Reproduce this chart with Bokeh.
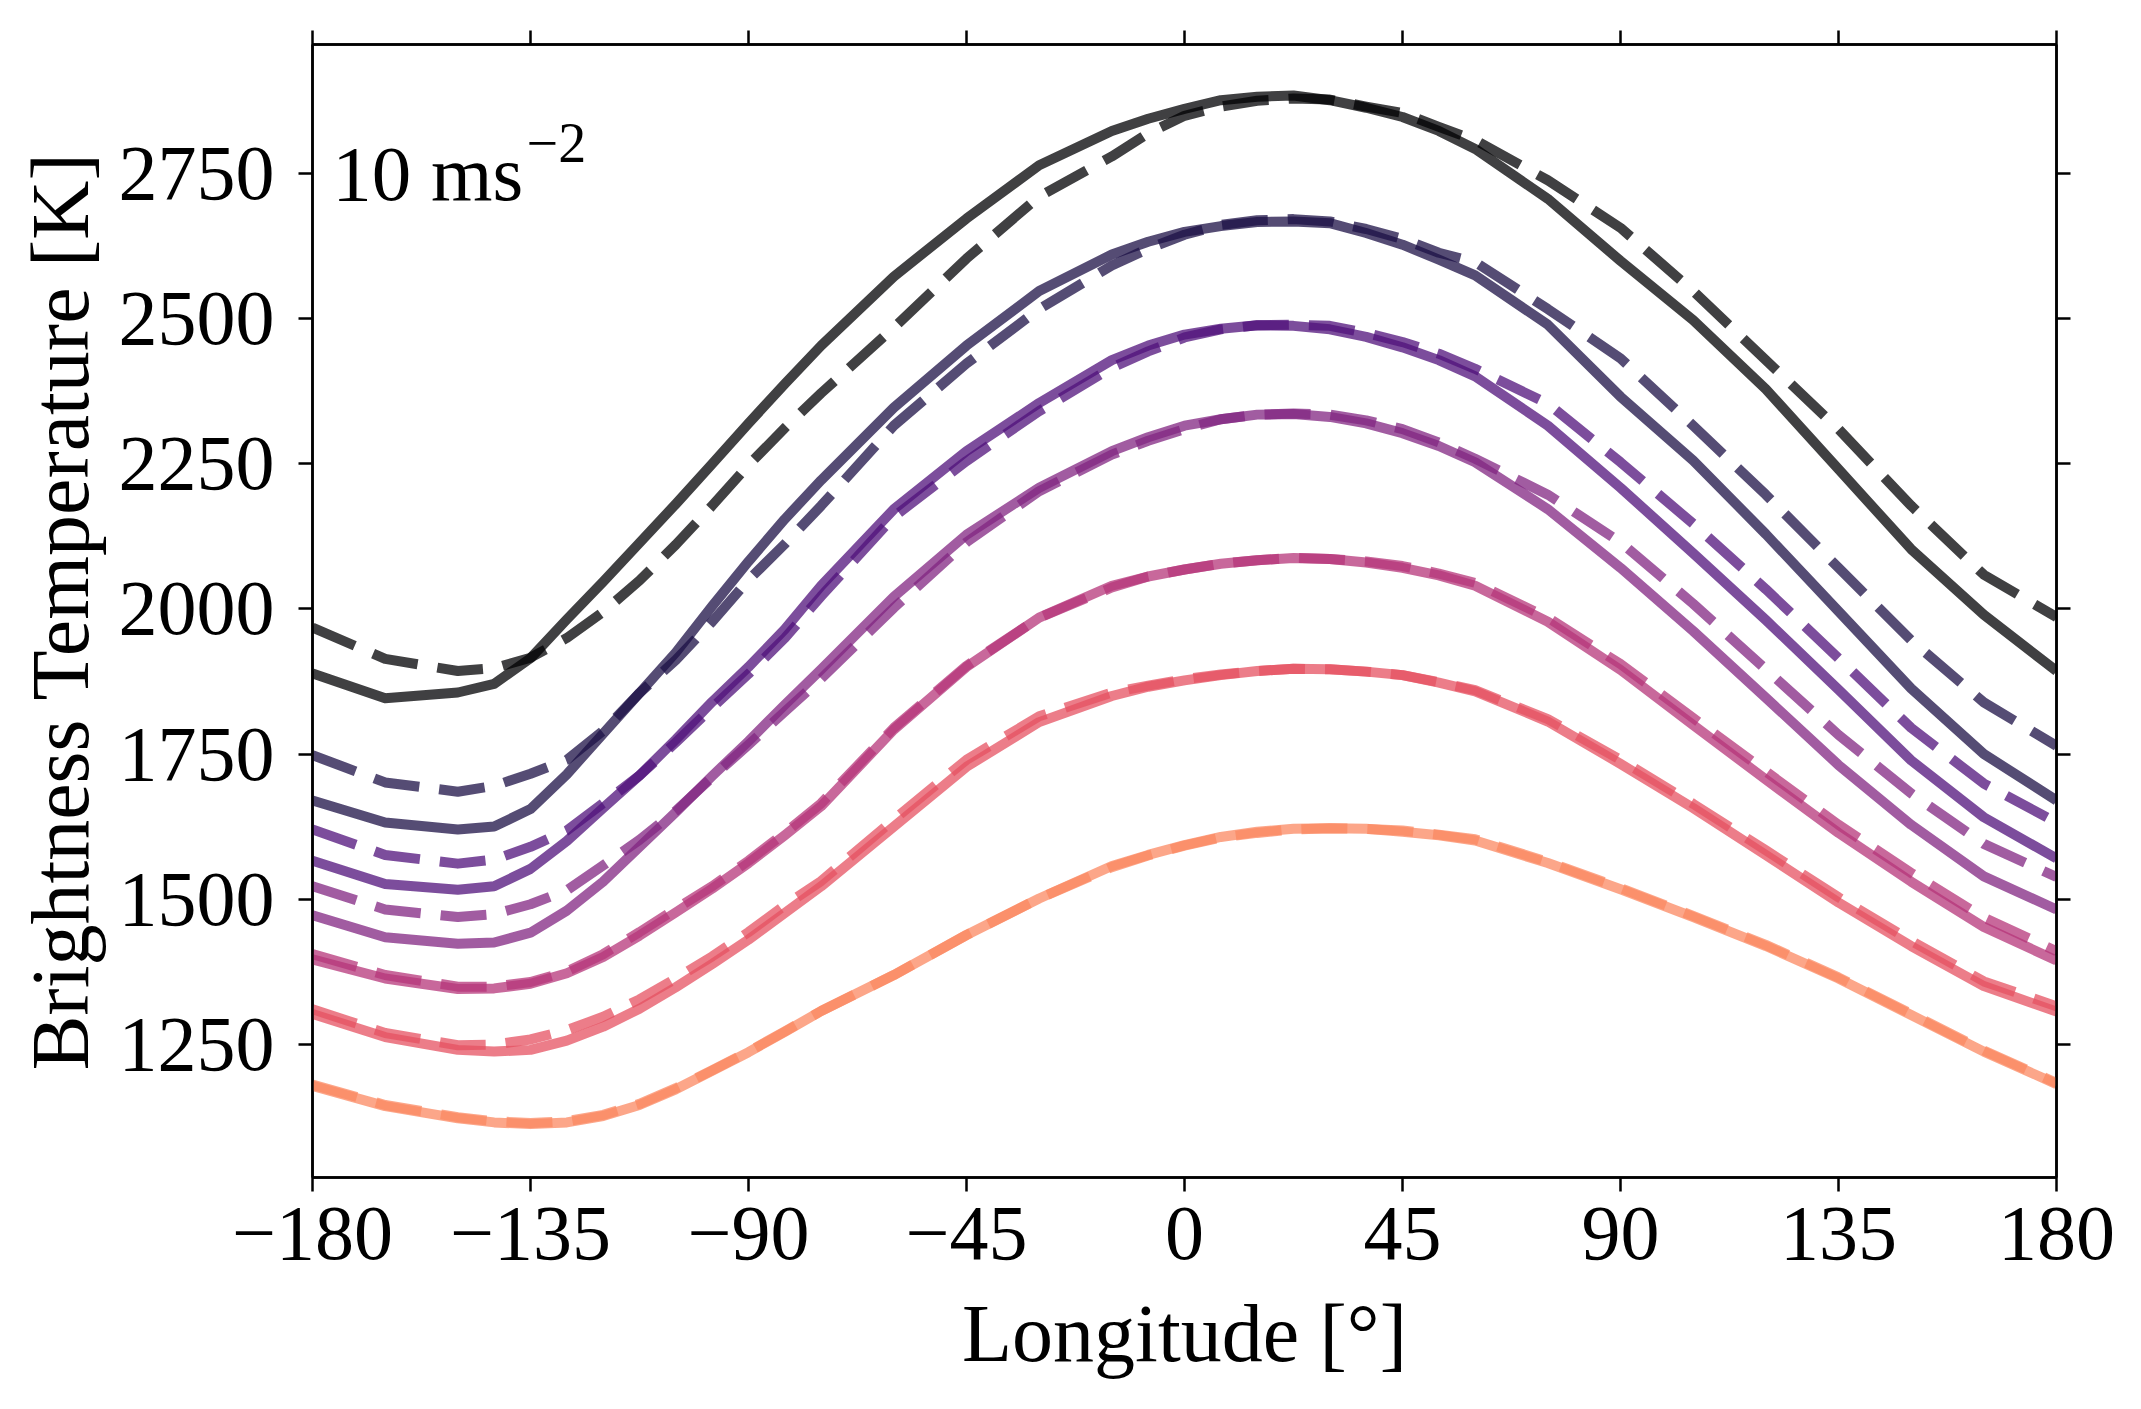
from bokeh.plotting import figure
from bokeh.models import FixedTicker, LinearAxis, Range1d, Label
from bokeh.palettes import Magma256
from bokeh.embed import file_html
from bokeh.resources import INLINE

# ---------------- data ----------------
longitude = [-180, -165, -150, -142.5, -135, -127.5, -120, -112.5, -105, -97.5,
             -90, -82.5, -75, -60, -45, -30, -15, -7.5, 0, 7.5,
             15, 22.5, 30, 37.5, 45, 52.5, 60, 75, 90, 105,
             120, 135, 150, 165, 180]

solid_1 = [1889, 1846, 1856, 1871, 1915, 1982, 2047, 2114, 2181, 2250,
           2320, 2388, 2454, 2573, 2673, 2765, 2824, 2845, 2862, 2877,
           2883, 2885, 2877, 2864, 2848, 2824, 2793, 2707, 2600, 2498,
           2379, 2241, 2103, 1990, 1893]
dashed_1 = [1968, 1914, 1893, 1898, 1916, 1950, 1995, 2049, 2111, 2178,
            2248, 2312, 2372, 2485, 2604, 2711, 2780, 2820, 2850, 2866,
            2876, 2880, 2878, 2866, 2855, 2831, 2808, 2739, 2657, 2548,
            2429, 2310, 2178, 2059, 1986]

solid_2 = [1670, 1632, 1620, 1625, 1655, 1715, 1785, 1855, 1925, 2005,
           2082, 2155, 2222, 2347, 2454, 2548, 2611, 2633, 2650, 2660,
           2667, 2668, 2665, 2648, 2628, 2602, 2575, 2490, 2366, 2256,
           2129, 1996, 1863, 1750, 1670]
dashed_2 = [1748, 1701, 1685, 1695, 1716, 1740, 1790, 1855, 1912, 1978,
            2050, 2112, 2178, 2316, 2423, 2517, 2592, 2621, 2645, 2662,
            2670, 2672, 2668, 2655, 2638, 2614, 2598, 2517, 2432, 2316,
            2197, 2071, 1946, 1839, 1764]

solid_3 = [1566, 1526, 1516, 1522, 1552, 1600, 1657, 1713, 1775, 1840,
           1900, 1965, 2040, 2172, 2272, 2355, 2429, 2454, 2473, 2483,
           2489, 2488, 2482, 2469, 2451, 2429, 2401, 2316, 2209, 2096,
           1981, 1861, 1739, 1641, 1570]
dashed_3 = [1620, 1576, 1561, 1568, 1590, 1618, 1665, 1713, 1770, 1830,
            1888, 1950, 2022, 2159, 2255, 2341, 2416, 2444, 2468, 2482,
            2489, 2490, 2488, 2476, 2460, 2440, 2414, 2354, 2253, 2147,
            2034, 1915, 1795, 1699, 1632]

solid_4 = [1472, 1434, 1423, 1425, 1442, 1480, 1530, 1590, 1650, 1712,
           1772, 1835, 1896, 2021, 2128, 2209, 2272, 2296, 2316, 2327,
           2335, 2336, 2331, 2320, 2303, 2281, 2253, 2172, 2071, 1962,
           1847, 1731, 1628, 1539, 1482]
dashed_4 = [1522, 1482, 1469, 1474, 1491, 1515, 1558, 1602, 1652, 1710,
            1766, 1823, 1880, 2002, 2115, 2203, 2266, 2290, 2310, 2327,
            2335, 2337, 2335, 2325, 2310, 2287, 2259, 2197, 2115, 2009,
            1896, 1783, 1682, 1595, 1538]

solid_5 = [1396, 1363, 1345, 1346, 1354, 1372, 1400, 1437, 1477, 1518,
           1562, 1610, 1660, 1792, 1900, 1985, 2040, 2056, 2068, 2078,
           2084, 2088, 2086, 2080, 2071, 2058, 2040, 1978, 1895, 1800,
           1706, 1614, 1530, 1452, 1394]
dashed_5 = [1405, 1369, 1349, 1349, 1357, 1375, 1405, 1443, 1483, 1522,
            1566, 1614, 1665, 1795, 1902, 1985, 2037, 2056, 2068, 2078,
            2084, 2088, 2086, 2082, 2074, 2061, 2045, 1985, 1905, 1812,
            1720, 1628, 1545, 1468, 1410]

solid_6 = [1302, 1262, 1240, 1237, 1240, 1256, 1280, 1311, 1348, 1388,
           1430, 1476, 1522, 1625, 1728, 1805, 1850, 1866, 1877, 1886,
           1893, 1897, 1896, 1892, 1886, 1873, 1858, 1806, 1733, 1657,
           1576, 1494, 1419, 1350, 1306]
dashed_6 = [1310, 1269, 1248, 1249, 1258, 1274, 1297, 1327, 1363, 1401,
            1443, 1489, 1531, 1637, 1740, 1815, 1856, 1868, 1879, 1887,
            1893, 1897, 1896, 1892, 1886, 1874, 1860, 1810, 1740, 1664,
            1584, 1503, 1428, 1358, 1315]

solid_7 = [1178, 1143, 1122, 1115, 1112, 1115, 1126, 1145, 1172, 1204,
           1236, 1271, 1307, 1369, 1438, 1501, 1557, 1576, 1593, 1607,
           1616, 1621, 1622, 1621, 1616, 1610, 1601, 1562, 1517, 1469,
           1419, 1363, 1300, 1237, 1181]
dashed_7 = [1180, 1145, 1124, 1117, 1114, 1117, 1128, 1147, 1174, 1205,
            1237, 1272, 1307, 1369, 1438, 1501, 1555, 1575, 1592, 1606,
            1614, 1620, 1622, 1621, 1618, 1611, 1603, 1564, 1519, 1471,
            1421, 1365, 1302, 1239, 1183]

x_ticks = [-180, -135, -90, -45, 0, 45, 90, 135, 180]
y_ticks = [1250, 1500, 1750, 2000, 2250, 2500, 2750]
annotation_main = "10 ms"
annotation_sup = "\u22122"

solids = [solid_1, solid_2, solid_3, solid_4, solid_5, solid_6, solid_7]
dasheds = [dashed_1, dashed_2, dashed_3, dashed_4, dashed_5, dashed_6, dashed_7]
colors = [Magma256[int(i / 8 * 256)] for i in range(7)]

# ---------------- figure ----------------
FONT = "Liberation Serif"

p = figure(width=2120, height=1390, output_backend="svg", toolbar_location=None,
           x_range=Range1d(-180, 180), y_range=Range1d(1020, 2973),
           min_border_left=312, min_border_right=64, min_border_top=44,
           min_border_bottom=213)
p.background_fill_color = "white"
p.border_fill_color = "white"
p.outline_line_color = "black"
p.outline_line_width = 2.5
p.xgrid.grid_line_color = None
p.ygrid.grid_line_color = None

for s, d, c in zip(solids, dasheds, colors):
    p.line(longitude, s, line_color=c, line_alpha=0.75, line_width=10, line_join="round")
    p.line(longitude, d, line_color=c, line_alpha=0.75, line_width=10, line_join="round",
           line_dash="46 20")


def style_axis(ax, ticks, labels=True):
    ax.ticker = FixedTicker(ticks=ticks)
    ax.major_tick_out = 14
    ax.major_tick_in = 0
    ax.minor_tick_out = 0
    ax.minor_tick_in = 0
    ax.major_tick_line_width = 2.5
    ax.major_tick_line_color = "black"
    ax.axis_line_width = 2.5
    ax.axis_line_color = "black"
    ax.major_label_text_font = FONT
    ax.major_label_text_color = "black"
    ax.axis_label_text_font = FONT
    ax.axis_label_text_font_style = "normal"
    ax.axis_label_text_color = "black"
    if labels:
        ax.major_label_text_font_size = "78px"
        ax.major_label_overrides = {t: (str(t).replace("-", "\u2212")) for t in ticks}
    else:
        ax.major_label_text_font_size = "1px"
        ax.major_label_overrides = {t: "" for t in ticks}
        ax.major_label_standoff = 0


xa = p.xaxis[0]
ya = p.yaxis[0]
style_axis(xa, x_ticks)
style_axis(ya, y_ticks)
xa.axis_label = "Longitude [\u00b0]"
ya.axis_label = "Brightness Temperature [K]"
xa.axis_label_text_font_size = "82px"
ya.axis_label_text_font_size = "82px"
xa.major_label_standoff = 16
ya.major_label_standoff = 24
xa.axis_label_standoff = 26
ya.axis_label_standoff = 10

top = LinearAxis()
style_axis(top, x_ticks, labels=False)
p.add_layout(top, "above")
right = LinearAxis()
style_axis(right, y_ticks, labels=False)
p.add_layout(right, "right")

p.add_layout(Label(x=-175.9, y=2750, text=annotation_main, text_font=FONT,
                   text_font_size="79px", text_color="black",
                   text_baseline="alphabetic", text_align="left"))
p.add_layout(Label(x=-135.8, y=2803, text=annotation_sup, text_font=FONT,
                   text_font_size="56px", text_color="black",
                   text_baseline="alphabetic", text_align="left"))

open("out.html", "w").write(file_html(p, INLINE))
